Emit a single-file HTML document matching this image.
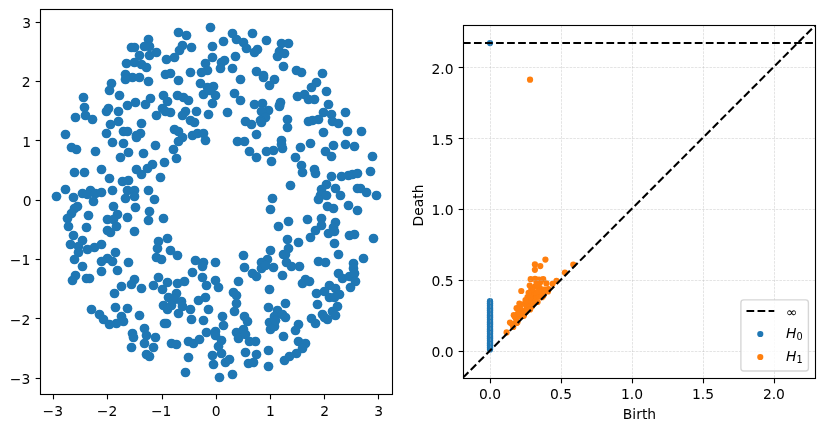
<!DOCTYPE html>
<html lang="en"><head><meta charset="utf-8"><title>Annulus point cloud and persistence diagram</title>
<style>html,body{margin:0;padding:0;background:#fff}body{width:825px;height:431px;overflow:hidden}svg{display:block}text{font-family:'DejaVu Sans','Liberation Sans',sans-serif;font-size:13.889px;fill:#000}.sp{fill:none;stroke:#000;stroke-width:1.111;stroke-linecap:square}.tk{stroke:#000;stroke-width:1.111}.gr{fill:none;stroke:#b0b0b0;stroke-opacity:.5;stroke-width:.694;stroke-dasharray:2.569 1.111}.dl{fill:none;stroke:#000;stroke-width:2.083;stroke-dasharray:7.708 3.333}</style></head><body>
<svg width="825" height="431" viewBox="0 0 825 431">
<rect width="825" height="431" fill="#fff"/>
<defs><clipPath id="c1"><rect x="40.2" y="9.1" width="352.3" height="385"/></clipPath><clipPath id="c2"><rect x="462.93" y="25.45" width="352.27" height="352.27"/></clipPath></defs>
<g clip-path="url(#c1)" fill="#1f77b4">
<circle cx="148.5" cy="39.5" r="4.86"/>
<circle cx="131.5" cy="47.5" r="4.86"/>
<circle cx="134.5" cy="47.5" r="4.86"/>
<circle cx="149.5" cy="46.5" r="4.86"/>
<circle cx="156.5" cy="52.5" r="4.86"/>
<circle cx="149.5" cy="55.5" r="4.86"/>
<circle cx="139.5" cy="55.5" r="4.86"/>
<circle cx="126.5" cy="63.5" r="4.86"/>
<circle cx="134.5" cy="62.5" r="4.86"/>
<circle cx="141.5" cy="64.5" r="4.86"/>
<circle cx="146.5" cy="67.5" r="4.86"/>
<circle cx="125.5" cy="74.5" r="4.86"/>
<circle cx="132.5" cy="77.5" r="4.86"/>
<circle cx="139.5" cy="77.5" r="4.86"/>
<circle cx="144.5" cy="46.5" r="4.86"/>
<circle cx="178.5" cy="32.5" r="4.86"/>
<circle cx="186.5" cy="35.5" r="4.86"/>
<circle cx="210.5" cy="27.5" r="4.86"/>
<circle cx="182.5" cy="45.5" r="4.86"/>
<circle cx="179.5" cy="50.5" r="4.86"/>
<circle cx="191.5" cy="47.5" r="4.86"/>
<circle cx="174.5" cy="57.5" r="4.86"/>
<circle cx="166.5" cy="59.5" r="4.86"/>
<circle cx="212.5" cy="46.5" r="4.86"/>
<circle cx="223.5" cy="41.5" r="4.86"/>
<circle cx="232.5" cy="33.5" r="4.86"/>
<circle cx="236.5" cy="39.5" r="4.86"/>
<circle cx="243.5" cy="42.5" r="4.86"/>
<circle cx="246.5" cy="48.5" r="4.86"/>
<circle cx="252.5" cy="33.5" r="4.86"/>
<circle cx="266.5" cy="40.5" r="4.86"/>
<circle cx="257.5" cy="49.5" r="4.86"/>
<circle cx="254.5" cy="52.5" r="4.86"/>
<circle cx="235.5" cy="56.5" r="4.86"/>
<circle cx="212.5" cy="57.5" r="4.86"/>
<circle cx="205.5" cy="63.5" r="4.86"/>
<circle cx="207.5" cy="70.5" r="4.86"/>
<circle cx="201.5" cy="72.5" r="4.86"/>
<circle cx="190.5" cy="72.5" r="4.86"/>
<circle cx="224.5" cy="60.5" r="4.86"/>
<circle cx="221.5" cy="62.5" r="4.86"/>
<circle cx="220.5" cy="68.5" r="4.86"/>
<circle cx="232.5" cy="68.5" r="4.86"/>
<circle cx="281.5" cy="43.5" r="4.86"/>
<circle cx="279.5" cy="51.5" r="4.86"/>
<circle cx="277.5" cy="56.5" r="4.86"/>
<circle cx="284.5" cy="53.5" r="4.86"/>
<circle cx="283.5" cy="66.5" r="4.86"/>
<circle cx="256.5" cy="71.5" r="4.86"/>
<circle cx="263.5" cy="75.5" r="4.86"/>
<circle cx="170.5" cy="73.5" r="4.86"/>
<circle cx="165.5" cy="74.5" r="4.86"/>
<circle cx="288.5" cy="43.5" r="4.86"/>
<circle cx="296.5" cy="70.5" r="4.86"/>
<circle cx="301.5" cy="72.5" r="4.86"/>
<circle cx="322.5" cy="73.5" r="4.86"/>
<circle cx="125.5" cy="79.5" r="4.86"/>
<circle cx="148.5" cy="81.5" r="4.86"/>
<circle cx="111.5" cy="83.5" r="4.86"/>
<circle cx="109.5" cy="90.5" r="4.86"/>
<circle cx="119.5" cy="95.5" r="4.86"/>
<circle cx="83.5" cy="97.5" r="4.86"/>
<circle cx="84.5" cy="107.5" r="4.86"/>
<circle cx="85.5" cy="115.5" r="4.86"/>
<circle cx="92.5" cy="119.5" r="4.86"/>
<circle cx="75.5" cy="117.5" r="4.86"/>
<circle cx="108.5" cy="108.5" r="4.86"/>
<circle cx="106.5" cy="111.5" r="4.86"/>
<circle cx="118.5" cy="111.5" r="4.86"/>
<circle cx="127.5" cy="105.5" r="4.86"/>
<circle cx="135.5" cy="102.5" r="4.86"/>
<circle cx="145.5" cy="104.5" r="4.86"/>
<circle cx="150.5" cy="98.5" r="4.86"/>
<circle cx="163.5" cy="95.5" r="4.86"/>
<circle cx="162.5" cy="108.5" r="4.86"/>
<circle cx="156.5" cy="115.5" r="4.86"/>
<circle cx="118.5" cy="121.5" r="4.86"/>
<circle cx="110.5" cy="124.5" r="4.86"/>
<circle cx="141.5" cy="123.5" r="4.86"/>
<circle cx="106.5" cy="133.5" r="4.86"/>
<circle cx="123.5" cy="131.5" r="4.86"/>
<circle cx="127.5" cy="131.5" r="4.86"/>
<circle cx="140.5" cy="133.5" r="4.86"/>
<circle cx="136.5" cy="135.5" r="4.86"/>
<circle cx="65.5" cy="134.5" r="4.86"/>
<circle cx="178.5" cy="80.5" r="4.86"/>
<circle cx="200.5" cy="83.5" r="4.86"/>
<circle cx="213.5" cy="86.5" r="4.86"/>
<circle cx="207.5" cy="87.5" r="4.86"/>
<circle cx="203.5" cy="94.5" r="4.86"/>
<circle cx="215.5" cy="95.5" r="4.86"/>
<circle cx="212.5" cy="103.5" r="4.86"/>
<circle cx="177.5" cy="95.5" r="4.86"/>
<circle cx="183.5" cy="97.5" r="4.86"/>
<circle cx="188.5" cy="100.5" r="4.86"/>
<circle cx="167.5" cy="101.5" r="4.86"/>
<circle cx="170.5" cy="112.5" r="4.86"/>
<circle cx="165.5" cy="111.5" r="4.86"/>
<circle cx="185.5" cy="111.5" r="4.86"/>
<circle cx="182.5" cy="115.5" r="4.86"/>
<circle cx="196.5" cy="111.5" r="4.86"/>
<circle cx="208.5" cy="114.5" r="4.86"/>
<circle cx="190.5" cy="120.5" r="4.86"/>
<circle cx="194.5" cy="122.5" r="4.86"/>
<circle cx="227.5" cy="112.5" r="4.86"/>
<circle cx="234.5" cy="93.5" r="4.86"/>
<circle cx="240.5" cy="100.5" r="4.86"/>
<circle cx="240.5" cy="79.5" r="4.86"/>
<circle cx="263.5" cy="77.5" r="4.86"/>
<circle cx="274.5" cy="79.5" r="4.86"/>
<circle cx="269.5" cy="85.5" r="4.86"/>
<circle cx="254.5" cy="104.5" r="4.86"/>
<circle cx="262.5" cy="103.5" r="4.86"/>
<circle cx="280.5" cy="102.5" r="4.86"/>
<circle cx="279.5" cy="105.5" r="4.86"/>
<circle cx="268.5" cy="110.5" r="4.86"/>
<circle cx="261.5" cy="111.5" r="4.86"/>
<circle cx="265.5" cy="117.5" r="4.86"/>
<circle cx="260.5" cy="120.5" r="4.86"/>
<circle cx="245.5" cy="121.5" r="4.86"/>
<circle cx="251.5" cy="124.5" r="4.86"/>
<circle cx="256.5" cy="134.5" r="4.86"/>
<circle cx="174.5" cy="129.5" r="4.86"/>
<circle cx="178.5" cy="131.5" r="4.86"/>
<circle cx="182.5" cy="137.5" r="4.86"/>
<circle cx="192.5" cy="135.5" r="4.86"/>
<circle cx="197.5" cy="133.5" r="4.86"/>
<circle cx="203.5" cy="133.5" r="4.86"/>
<circle cx="316.5" cy="82.5" r="4.86"/>
<circle cx="311.5" cy="87.5" r="4.86"/>
<circle cx="326.5" cy="91.5" r="4.86"/>
<circle cx="297.5" cy="96.5" r="4.86"/>
<circle cx="304.5" cy="94.5" r="4.86"/>
<circle cx="308.5" cy="99.5" r="4.86"/>
<circle cx="314.5" cy="99.5" r="4.86"/>
<circle cx="328.5" cy="104.5" r="4.86"/>
<circle cx="323.5" cy="112.5" r="4.86"/>
<circle cx="331.5" cy="114.5" r="4.86"/>
<circle cx="345.5" cy="112.5" r="4.86"/>
<circle cx="318.5" cy="119.5" r="4.86"/>
<circle cx="312.5" cy="120.5" r="4.86"/>
<circle cx="308.5" cy="121.5" r="4.86"/>
<circle cx="332.5" cy="121.5" r="4.86"/>
<circle cx="338.5" cy="123.5" r="4.86"/>
<circle cx="323.5" cy="132.5" r="4.86"/>
<circle cx="347.5" cy="131.5" r="4.86"/>
<circle cx="361.5" cy="131.5" r="4.86"/>
<circle cx="287.5" cy="119.5" r="4.86"/>
<circle cx="287.5" cy="127.5" r="4.86"/>
<circle cx="71.5" cy="147.5" r="4.86"/>
<circle cx="76.5" cy="149.5" r="4.86"/>
<circle cx="95.5" cy="151.5" r="4.86"/>
<circle cx="112.5" cy="142.5" r="4.86"/>
<circle cx="123.5" cy="143.5" r="4.86"/>
<circle cx="128.5" cy="152.5" r="4.86"/>
<circle cx="120.5" cy="157.5" r="4.86"/>
<circle cx="143.5" cy="153.5" r="4.86"/>
<circle cx="155.5" cy="145.5" r="4.86"/>
<circle cx="136.5" cy="137.5" r="4.86"/>
<circle cx="74.5" cy="172.5" r="4.86"/>
<circle cx="84.5" cy="172.5" r="4.86"/>
<circle cx="101.5" cy="169.5" r="4.86"/>
<circle cx="109.5" cy="178.5" r="4.86"/>
<circle cx="122.5" cy="181.5" r="4.86"/>
<circle cx="128.5" cy="180.5" r="4.86"/>
<circle cx="136.5" cy="169.5" r="4.86"/>
<circle cx="141.5" cy="174.5" r="4.86"/>
<circle cx="147.5" cy="168.5" r="4.86"/>
<circle cx="152.5" cy="164.5" r="4.86"/>
<circle cx="164.5" cy="162.5" r="4.86"/>
<circle cx="160.5" cy="177.5" r="4.86"/>
<circle cx="65.5" cy="189.5" r="4.86"/>
<circle cx="56.5" cy="196.5" r="4.86"/>
<circle cx="73.5" cy="197.5" r="4.86"/>
<circle cx="82.5" cy="193.5" r="4.86"/>
<circle cx="90.5" cy="190.5" r="4.86"/>
<circle cx="87.5" cy="194.5" r="4.86"/>
<circle cx="95.5" cy="193.5" r="4.86"/>
<circle cx="101.5" cy="192.5" r="4.86"/>
<circle cx="112.5" cy="190.5" r="4.86"/>
<circle cx="127.5" cy="190.5" r="4.86"/>
<circle cx="134.5" cy="190.5" r="4.86"/>
<circle cx="125.5" cy="198.5" r="4.86"/>
<circle cx="134.5" cy="196.5" r="4.86"/>
<circle cx="148.5" cy="190.5" r="4.86"/>
<circle cx="154.5" cy="199.5" r="4.86"/>
<circle cx="93.5" cy="201.5" r="4.86"/>
<circle cx="178.5" cy="141.5" r="4.86"/>
<circle cx="205.5" cy="140.5" r="4.86"/>
<circle cx="173.5" cy="149.5" r="4.86"/>
<circle cx="176.5" cy="158.5" r="4.86"/>
<circle cx="237.5" cy="141.5" r="4.86"/>
<circle cx="244.5" cy="141.5" r="4.86"/>
<circle cx="249.5" cy="151.5" r="4.86"/>
<circle cx="256.5" cy="157.5" r="4.86"/>
<circle cx="266.5" cy="151.5" r="4.86"/>
<circle cx="273.5" cy="150.5" r="4.86"/>
<circle cx="271.5" cy="161.5" r="4.86"/>
<circle cx="281.5" cy="140.5" r="4.86"/>
<circle cx="282.5" cy="148.5" r="4.86"/>
<circle cx="272.5" cy="198.5" r="4.86"/>
<circle cx="300.5" cy="147.5" r="4.86"/>
<circle cx="310.5" cy="143.5" r="4.86"/>
<circle cx="295.5" cy="157.5" r="4.86"/>
<circle cx="333.5" cy="145.5" r="4.86"/>
<circle cx="325.5" cy="151.5" r="4.86"/>
<circle cx="331.5" cy="156.5" r="4.86"/>
<circle cx="345.5" cy="144.5" r="4.86"/>
<circle cx="354.5" cy="146.5" r="4.86"/>
<circle cx="372.5" cy="156.5" r="4.86"/>
<circle cx="301.5" cy="165.5" r="4.86"/>
<circle cx="302.5" cy="172.5" r="4.86"/>
<circle cx="314.5" cy="169.5" r="4.86"/>
<circle cx="315.5" cy="173.5" r="4.86"/>
<circle cx="331.5" cy="176.5" r="4.86"/>
<circle cx="341.5" cy="176.5" r="4.86"/>
<circle cx="348.5" cy="175.5" r="4.86"/>
<circle cx="352.5" cy="174.5" r="4.86"/>
<circle cx="357.5" cy="173.5" r="4.86"/>
<circle cx="370.5" cy="171.5" r="4.86"/>
<circle cx="290.5" cy="185.5" r="4.86"/>
<circle cx="326.5" cy="184.5" r="4.86"/>
<circle cx="321.5" cy="189.5" r="4.86"/>
<circle cx="320.5" cy="195.5" r="4.86"/>
<circle cx="326.5" cy="195.5" r="4.86"/>
<circle cx="318.5" cy="199.5" r="4.86"/>
<circle cx="335.5" cy="188.5" r="4.86"/>
<circle cx="340.5" cy="195.5" r="4.86"/>
<circle cx="357.5" cy="188.5" r="4.86"/>
<circle cx="360.5" cy="188.5" r="4.86"/>
<circle cx="366.5" cy="192.5" r="4.86"/>
<circle cx="376.5" cy="195.5" r="4.86"/>
<circle cx="77.5" cy="206.5" r="4.86"/>
<circle cx="74.5" cy="208.5" r="4.86"/>
<circle cx="71.5" cy="213.5" r="4.86"/>
<circle cx="67.5" cy="218.5" r="4.86"/>
<circle cx="68.5" cy="226.5" r="4.86"/>
<circle cx="88.5" cy="215.5" r="4.86"/>
<circle cx="86.5" cy="227.5" r="4.86"/>
<circle cx="113.5" cy="206.5" r="4.86"/>
<circle cx="117.5" cy="214.5" r="4.86"/>
<circle cx="107.5" cy="219.5" r="4.86"/>
<circle cx="113.5" cy="219.5" r="4.86"/>
<circle cx="116.5" cy="226.5" r="4.86"/>
<circle cx="107.5" cy="230.5" r="4.86"/>
<circle cx="110.5" cy="232.5" r="4.86"/>
<circle cx="127.5" cy="217.5" r="4.86"/>
<circle cx="135.5" cy="207.5" r="4.86"/>
<circle cx="149.5" cy="211.5" r="4.86"/>
<circle cx="148.5" cy="220.5" r="4.86"/>
<circle cx="163.5" cy="218.5" r="4.86"/>
<circle cx="134.5" cy="231.5" r="4.86"/>
<circle cx="73.5" cy="235.5" r="4.86"/>
<circle cx="82.5" cy="240.5" r="4.86"/>
<circle cx="70.5" cy="244.5" r="4.86"/>
<circle cx="78.5" cy="246.5" r="4.86"/>
<circle cx="78.5" cy="252.5" r="4.86"/>
<circle cx="74.5" cy="259.5" r="4.86"/>
<circle cx="87.5" cy="249.5" r="4.86"/>
<circle cx="94.5" cy="247.5" r="4.86"/>
<circle cx="101.5" cy="244.5" r="4.86"/>
<circle cx="115.5" cy="252.5" r="4.86"/>
<circle cx="107.5" cy="258.5" r="4.86"/>
<circle cx="101.5" cy="261.5" r="4.86"/>
<circle cx="112.5" cy="261.5" r="4.86"/>
<circle cx="128.5" cy="262.5" r="4.86"/>
<circle cx="158.5" cy="241.5" r="4.86"/>
<circle cx="157.5" cy="248.5" r="4.86"/>
<circle cx="156.5" cy="257.5" r="4.86"/>
<circle cx="161.5" cy="259.5" r="4.86"/>
<circle cx="167.5" cy="238.5" r="4.86"/>
<circle cx="170.5" cy="250.5" r="4.86"/>
<circle cx="177.5" cy="255.5" r="4.86"/>
<circle cx="195.5" cy="260.5" r="4.86"/>
<circle cx="203.5" cy="262.5" r="4.86"/>
<circle cx="215.5" cy="262.5" r="4.86"/>
<circle cx="243.5" cy="255.5" r="4.86"/>
<circle cx="270.5" cy="209.5" r="4.86"/>
<circle cx="278.5" cy="226.5" r="4.86"/>
<circle cx="270.5" cy="250.5" r="4.86"/>
<circle cx="267.5" cy="259.5" r="4.86"/>
<circle cx="261.5" cy="262.5" r="4.86"/>
<circle cx="283.5" cy="254.5" r="4.86"/>
<circle cx="327.5" cy="206.5" r="4.86"/>
<circle cx="333.5" cy="208.5" r="4.86"/>
<circle cx="348.5" cy="205.5" r="4.86"/>
<circle cx="357.5" cy="210.5" r="4.86"/>
<circle cx="288.5" cy="221.5" r="4.86"/>
<circle cx="307.5" cy="219.5" r="4.86"/>
<circle cx="321.5" cy="218.5" r="4.86"/>
<circle cx="321.5" cy="225.5" r="4.86"/>
<circle cx="315.5" cy="230.5" r="4.86"/>
<circle cx="310.5" cy="237.5" r="4.86"/>
<circle cx="335.5" cy="222.5" r="4.86"/>
<circle cx="333.5" cy="227.5" r="4.86"/>
<circle cx="328.5" cy="233.5" r="4.86"/>
<circle cx="334.5" cy="231.5" r="4.86"/>
<circle cx="349.5" cy="235.5" r="4.86"/>
<circle cx="354.5" cy="234.5" r="4.86"/>
<circle cx="373.5" cy="238.5" r="4.86"/>
<circle cx="287.5" cy="239.5" r="4.86"/>
<circle cx="298.5" cy="242.5" r="4.86"/>
<circle cx="288.5" cy="248.5" r="4.86"/>
<circle cx="334.5" cy="243.5" r="4.86"/>
<circle cx="338.5" cy="254.5" r="4.86"/>
<circle cx="363.5" cy="258.5" r="4.86"/>
<circle cx="318.5" cy="261.5" r="4.86"/>
<circle cx="325.5" cy="262.5" r="4.86"/>
<circle cx="285.5" cy="254.5" r="4.86"/>
<circle cx="286.5" cy="262.5" r="4.86"/>
<circle cx="299.5" cy="266.5" r="4.86"/>
<circle cx="353.5" cy="263.5" r="4.86"/>
<circle cx="82.5" cy="266.5" r="4.86"/>
<circle cx="101.5" cy="271.5" r="4.86"/>
<circle cx="117.5" cy="270.5" r="4.86"/>
<circle cx="75.5" cy="275.5" r="4.86"/>
<circle cx="72.5" cy="280.5" r="4.86"/>
<circle cx="86.5" cy="278.5" r="4.86"/>
<circle cx="89.5" cy="278.5" r="4.86"/>
<circle cx="134.5" cy="279.5" r="4.86"/>
<circle cx="131.5" cy="284.5" r="4.86"/>
<circle cx="121.5" cy="286.5" r="4.86"/>
<circle cx="114.5" cy="293.5" r="4.86"/>
<circle cx="141.5" cy="288.5" r="4.86"/>
<circle cx="153.5" cy="285.5" r="4.86"/>
<circle cx="158.5" cy="277.5" r="4.86"/>
<circle cx="162.5" cy="289.5" r="4.86"/>
<circle cx="167.5" cy="282.5" r="4.86"/>
<circle cx="91.5" cy="309.5" r="4.86"/>
<circle cx="115.5" cy="307.5" r="4.86"/>
<circle cx="127.5" cy="308.5" r="4.86"/>
<circle cx="99.5" cy="314.5" r="4.86"/>
<circle cx="103.5" cy="319.5" r="4.86"/>
<circle cx="121.5" cy="316.5" r="4.86"/>
<circle cx="123.5" cy="321.5" r="4.86"/>
<circle cx="116.5" cy="323.5" r="4.86"/>
<circle cx="109.5" cy="324.5" r="4.86"/>
<circle cx="139.5" cy="315.5" r="4.86"/>
<circle cx="163.5" cy="305.5" r="4.86"/>
<circle cx="164.5" cy="323.5" r="4.86"/>
<circle cx="144.5" cy="328.5" r="4.86"/>
<circle cx="202.5" cy="266.5" r="4.86"/>
<circle cx="192.5" cy="272.5" r="4.86"/>
<circle cx="202.5" cy="277.5" r="4.86"/>
<circle cx="206.5" cy="285.5" r="4.86"/>
<circle cx="215.5" cy="280.5" r="4.86"/>
<circle cx="218.5" cy="287.5" r="4.86"/>
<circle cx="177.5" cy="283.5" r="4.86"/>
<circle cx="184.5" cy="281.5" r="4.86"/>
<circle cx="176.5" cy="293.5" r="4.86"/>
<circle cx="168.5" cy="297.5" r="4.86"/>
<circle cx="174.5" cy="299.5" r="4.86"/>
<circle cx="181.5" cy="301.5" r="4.86"/>
<circle cx="167.5" cy="309.5" r="4.86"/>
<circle cx="178.5" cy="313.5" r="4.86"/>
<circle cx="182.5" cy="306.5" r="4.86"/>
<circle cx="171.5" cy="305.5" r="4.86"/>
<circle cx="190.5" cy="309.5" r="4.86"/>
<circle cx="198.5" cy="300.5" r="4.86"/>
<circle cx="205.5" cy="297.5" r="4.86"/>
<circle cx="208.5" cy="309.5" r="4.86"/>
<circle cx="191.5" cy="319.5" r="4.86"/>
<circle cx="203.5" cy="320.5" r="4.86"/>
<circle cx="166.5" cy="323.5" r="4.86"/>
<circle cx="222.5" cy="316.5" r="4.86"/>
<circle cx="223.5" cy="325.5" r="4.86"/>
<circle cx="238.5" cy="281.5" r="4.86"/>
<circle cx="233.5" cy="292.5" r="4.86"/>
<circle cx="236.5" cy="295.5" r="4.86"/>
<circle cx="236.5" cy="303.5" r="4.86"/>
<circle cx="234.5" cy="311.5" r="4.86"/>
<circle cx="244.5" cy="267.5" r="4.86"/>
<circle cx="252.5" cy="273.5" r="4.86"/>
<circle cx="256.5" cy="276.5" r="4.86"/>
<circle cx="261.5" cy="268.5" r="4.86"/>
<circle cx="265.5" cy="265.5" r="4.86"/>
<circle cx="273.5" cy="267.5" r="4.86"/>
<circle cx="282.5" cy="275.5" r="4.86"/>
<circle cx="269.5" cy="289.5" r="4.86"/>
<circle cx="268.5" cy="307.5" r="4.86"/>
<circle cx="277.5" cy="310.5" r="4.86"/>
<circle cx="274.5" cy="316.5" r="4.86"/>
<circle cx="269.5" cy="322.5" r="4.86"/>
<circle cx="244.5" cy="316.5" r="4.86"/>
<circle cx="247.5" cy="321.5" r="4.86"/>
<circle cx="282.5" cy="314.5" r="4.86"/>
<circle cx="291.5" cy="266.5" r="4.86"/>
<circle cx="285.5" cy="303.5" r="4.86"/>
<circle cx="305.5" cy="279.5" r="4.86"/>
<circle cx="302.5" cy="283.5" r="4.86"/>
<circle cx="309.5" cy="281.5" r="4.86"/>
<circle cx="338.5" cy="273.5" r="4.86"/>
<circle cx="342.5" cy="278.5" r="4.86"/>
<circle cx="349.5" cy="276.5" r="4.86"/>
<circle cx="353.5" cy="268.5" r="4.86"/>
<circle cx="354.5" cy="273.5" r="4.86"/>
<circle cx="355.5" cy="281.5" r="4.86"/>
<circle cx="350.5" cy="287.5" r="4.86"/>
<circle cx="329.5" cy="285.5" r="4.86"/>
<circle cx="324.5" cy="291.5" r="4.86"/>
<circle cx="316.5" cy="293.5" r="4.86"/>
<circle cx="335.5" cy="288.5" r="4.86"/>
<circle cx="339.5" cy="294.5" r="4.86"/>
<circle cx="329.5" cy="297.5" r="4.86"/>
<circle cx="334.5" cy="297.5" r="4.86"/>
<circle cx="317.5" cy="304.5" r="4.86"/>
<circle cx="337.5" cy="306.5" r="4.86"/>
<circle cx="332.5" cy="311.5" r="4.86"/>
<circle cx="335.5" cy="315.5" r="4.86"/>
<circle cx="322.5" cy="314.5" r="4.86"/>
<circle cx="327.5" cy="319.5" r="4.86"/>
<circle cx="311.5" cy="318.5" r="4.86"/>
<circle cx="315.5" cy="323.5" r="4.86"/>
<circle cx="298.5" cy="324.5" r="4.86"/>
<circle cx="132.5" cy="333.5" r="4.86"/>
<circle cx="133.5" cy="337.5" r="4.86"/>
<circle cx="131.5" cy="347.5" r="4.86"/>
<circle cx="146.5" cy="335.5" r="4.86"/>
<circle cx="144.5" cy="343.5" r="4.86"/>
<circle cx="155.5" cy="337.5" r="4.86"/>
<circle cx="153.5" cy="347.5" r="4.86"/>
<circle cx="146.5" cy="354.5" r="4.86"/>
<circle cx="149.5" cy="356.5" r="4.86"/>
<circle cx="171.5" cy="343.5" r="4.86"/>
<circle cx="176.5" cy="344.5" r="4.86"/>
<circle cx="188.5" cy="341.5" r="4.86"/>
<circle cx="193.5" cy="343.5" r="4.86"/>
<circle cx="199.5" cy="339.5" r="4.86"/>
<circle cx="206.5" cy="332.5" r="4.86"/>
<circle cx="215.5" cy="331.5" r="4.86"/>
<circle cx="215.5" cy="335.5" r="4.86"/>
<circle cx="221.5" cy="340.5" r="4.86"/>
<circle cx="218.5" cy="346.5" r="4.86"/>
<circle cx="221.5" cy="353.5" r="4.86"/>
<circle cx="212.5" cy="355.5" r="4.86"/>
<circle cx="213.5" cy="364.5" r="4.86"/>
<circle cx="188.5" cy="357.5" r="4.86"/>
<circle cx="185.5" cy="372.5" r="4.86"/>
<circle cx="219.5" cy="377.5" r="4.86"/>
<circle cx="232.5" cy="374.5" r="4.86"/>
<circle cx="225.5" cy="362.5" r="4.86"/>
<circle cx="229.5" cy="359.5" r="4.86"/>
<circle cx="236.5" cy="332.5" r="4.86"/>
<circle cx="238.5" cy="338.5" r="4.86"/>
<circle cx="243.5" cy="329.5" r="4.86"/>
<circle cx="245.5" cy="334.5" r="4.86"/>
<circle cx="249.5" cy="341.5" r="4.86"/>
<circle cx="255.5" cy="341.5" r="4.86"/>
<circle cx="245.5" cy="352.5" r="4.86"/>
<circle cx="256.5" cy="354.5" r="4.86"/>
<circle cx="248.5" cy="363.5" r="4.86"/>
<circle cx="253.5" cy="362.5" r="4.86"/>
<circle cx="268.5" cy="350.5" r="4.86"/>
<circle cx="268.5" cy="366.5" r="4.86"/>
<circle cx="270.5" cy="329.5" r="4.86"/>
<circle cx="274.5" cy="326.5" r="4.86"/>
<circle cx="283.5" cy="336.5" r="4.86"/>
<circle cx="284.5" cy="360.5" r="4.86"/>
<circle cx="295.5" cy="330.5" r="4.86"/>
<circle cx="298.5" cy="341.5" r="4.86"/>
<circle cx="305.5" cy="343.5" r="4.86"/>
<circle cx="302.5" cy="348.5" r="4.86"/>
<circle cx="296.5" cy="353.5" r="4.86"/>
<circle cx="289.5" cy="356.5" r="4.86"/>
<circle cx="261.5" cy="122.5" r="4.86"/>
<circle cx="281.5" cy="144.5" r="4.86"/>
<circle cx="279.5" cy="106.5" r="4.86"/>
<circle cx="285.5" cy="317.5" r="4.86"/>
<circle cx="324.5" cy="317.5" r="4.86"/>
<circle cx="209.5" cy="90.5" r="4.86"/>
<circle cx="275.5" cy="320.5" r="4.86"/>
</g>
<path class="tk" d="M53.5 394.5v4.86"/>
<path class="tk" d="M107.5 394.5v4.86"/>
<path class="tk" d="M162.5 394.5v4.86"/>
<path class="tk" d="M216.5 394.5v4.86"/>
<path class="tk" d="M270.5 394.5v4.86"/>
<path class="tk" d="M324.5 394.5v4.86"/>
<path class="tk" d="M378.5 394.5v4.86"/>
<path class="tk" d="M40.5 378.5h-4.86"/>
<path class="tk" d="M40.5 318.5h-4.86"/>
<path class="tk" d="M40.5 259.5h-4.86"/>
<path class="tk" d="M40.5 200.5h-4.86"/>
<path class="tk" d="M40.5 140.5h-4.86"/>
<path class="tk" d="M40.5 81.5h-4.86"/>
<path class="tk" d="M40.5 22.5h-4.86"/>
<text x="52.82" y="416.36" text-anchor="middle">−3</text>
<text x="107.01" y="416.36" text-anchor="middle">−2</text>
<text x="161.20" y="416.36" text-anchor="middle">−1</text>
<text x="216.18" y="416.36" text-anchor="middle">0</text>
<text x="270.37" y="416.36" text-anchor="middle">1</text>
<text x="324.56" y="416.36" text-anchor="middle">2</text>
<text x="378.75" y="416.36" text-anchor="middle">3</text>
<text x="30.30" y="383.87" text-anchor="end">−3</text>
<text x="30.30" y="324.54" text-anchor="end">−2</text>
<text x="30.30" y="265.21" text-anchor="end">−1</text>
<text x="31.60" y="205.87" text-anchor="end">0</text>
<text x="30.98" y="146.54" text-anchor="end">1</text>
<text x="30.70" y="87.21" text-anchor="end">2</text>
<text x="30.98" y="27.88" text-anchor="end">3</text>
<rect class="sp" x="40.5" y="9.5" width="352.0" height="385.0"/>
<g clip-path="url(#c2)">
<g fill="#1f77b4">
<circle cx="490.02" cy="349.49" r="3.106"/>
<circle cx="490.02" cy="348.79" r="3.106"/>
<circle cx="490.02" cy="348.09" r="3.106"/>
<circle cx="490.02" cy="347.39" r="3.106"/>
<circle cx="490.02" cy="346.69" r="3.106"/>
<circle cx="490.02" cy="345.99" r="3.106"/>
<circle cx="490.02" cy="345.29" r="3.106"/>
<circle cx="490.02" cy="344.59" r="3.106"/>
<circle cx="490.02" cy="343.89" r="3.106"/>
<circle cx="490.02" cy="343.19" r="3.106"/>
<circle cx="490.02" cy="342.49" r="3.106"/>
<circle cx="490.02" cy="341.80" r="3.106"/>
<circle cx="490.02" cy="341.10" r="3.106"/>
<circle cx="490.02" cy="340.40" r="3.106"/>
<circle cx="490.02" cy="339.70" r="3.106"/>
<circle cx="490.02" cy="339.00" r="3.106"/>
<circle cx="490.02" cy="338.30" r="3.106"/>
<circle cx="490.02" cy="337.60" r="3.106"/>
<circle cx="490.02" cy="336.90" r="3.106"/>
<circle cx="490.02" cy="336.20" r="3.106"/>
<circle cx="490.02" cy="335.50" r="3.106"/>
<circle cx="490.02" cy="334.80" r="3.106"/>
<circle cx="490.02" cy="334.10" r="3.106"/>
<circle cx="490.02" cy="333.40" r="3.106"/>
<circle cx="490.02" cy="332.70" r="3.106"/>
<circle cx="490.02" cy="332.00" r="3.106"/>
<circle cx="490.02" cy="331.30" r="3.106"/>
<circle cx="490.02" cy="330.60" r="3.106"/>
<circle cx="490.02" cy="329.90" r="3.106"/>
<circle cx="490.02" cy="329.21" r="3.106"/>
<circle cx="490.02" cy="328.51" r="3.106"/>
<circle cx="490.02" cy="327.81" r="3.106"/>
<circle cx="490.02" cy="327.11" r="3.106"/>
<circle cx="490.02" cy="326.41" r="3.106"/>
<circle cx="490.02" cy="325.71" r="3.106"/>
<circle cx="490.02" cy="325.01" r="3.106"/>
<circle cx="490.02" cy="324.31" r="3.106"/>
<circle cx="490.02" cy="323.61" r="3.106"/>
<circle cx="490.02" cy="322.91" r="3.106"/>
<circle cx="490.02" cy="322.21" r="3.106"/>
<circle cx="490.02" cy="321.51" r="3.106"/>
<circle cx="490.02" cy="320.81" r="3.106"/>
<circle cx="490.02" cy="320.11" r="3.106"/>
<circle cx="490.02" cy="319.41" r="3.106"/>
<circle cx="490.02" cy="318.71" r="3.106"/>
<circle cx="490.02" cy="318.01" r="3.106"/>
<circle cx="490.02" cy="317.31" r="3.106"/>
<circle cx="490.02" cy="316.61" r="3.106"/>
<circle cx="490.02" cy="315.92" r="3.106"/>
<circle cx="490.02" cy="315.22" r="3.106"/>
<circle cx="490.02" cy="314.52" r="3.106"/>
<circle cx="490.02" cy="313.82" r="3.106"/>
<circle cx="490.02" cy="313.12" r="3.106"/>
<circle cx="490.02" cy="312.42" r="3.106"/>
<circle cx="490.02" cy="311.72" r="3.106"/>
<circle cx="490.02" cy="311.02" r="3.106"/>
<circle cx="490.02" cy="310.32" r="3.106"/>
<circle cx="490.02" cy="309.62" r="3.106"/>
<circle cx="490.02" cy="308.92" r="3.106"/>
<circle cx="490.02" cy="308.22" r="3.106"/>
<circle cx="490.02" cy="307.52" r="3.106"/>
<circle cx="490.02" cy="306.82" r="3.106"/>
<circle cx="490.02" cy="306.12" r="3.106"/>
<circle cx="490.02" cy="305.42" r="3.106"/>
<circle cx="490.02" cy="304.72" r="3.106"/>
<circle cx="490.02" cy="304.02" r="3.106"/>
<circle cx="490.02" cy="303.33" r="3.106"/>
<circle cx="490.02" cy="302.63" r="3.106"/>
<circle cx="490.02" cy="301.93" r="3.106"/>
<circle cx="490.02" cy="301.23" r="3.106"/>
<circle cx="490.02" cy="43.06" r="3.106"/>
</g>
<g fill="#ff7f0e">
<circle cx="530.05" cy="79.70" r="3.106"/>
<circle cx="545.40" cy="259.60" r="3.106"/>
<circle cx="534.90" cy="264.40" r="3.106"/>
<circle cx="540.30" cy="266.10" r="3.106"/>
<circle cx="534.90" cy="269.80" r="3.106"/>
<circle cx="573.30" cy="264.50" r="3.106"/>
<circle cx="564.90" cy="272.60" r="3.106"/>
<circle cx="556.50" cy="280.80" r="3.106"/>
<circle cx="552.60" cy="283.80" r="3.106"/>
<circle cx="521.30" cy="291.00" r="3.106"/>
<circle cx="510.00" cy="322.60" r="3.106"/>
<circle cx="506.60" cy="332.40" r="3.106"/>
<circle cx="540.32" cy="282.14" r="3.106"/>
<circle cx="525.21" cy="303.90" r="3.106"/>
<circle cx="526.95" cy="307.69" r="3.106"/>
<circle cx="520.50" cy="311.02" r="3.106"/>
<circle cx="538.63" cy="291.81" r="3.106"/>
<circle cx="521.12" cy="316.05" r="3.106"/>
<circle cx="539.78" cy="287.81" r="3.106"/>
<circle cx="538.73" cy="291.77" r="3.106"/>
<circle cx="546.33" cy="290.87" r="3.106"/>
<circle cx="532.72" cy="297.58" r="3.106"/>
<circle cx="534.97" cy="286.62" r="3.106"/>
<circle cx="515.93" cy="316.33" r="3.106"/>
<circle cx="517.41" cy="322.37" r="3.106"/>
<circle cx="537.91" cy="295.89" r="3.106"/>
<circle cx="529.15" cy="304.96" r="3.106"/>
<circle cx="542.06" cy="297.26" r="3.106"/>
<circle cx="517.03" cy="316.03" r="3.106"/>
<circle cx="544.09" cy="289.70" r="3.106"/>
<circle cx="527.47" cy="297.05" r="3.106"/>
<circle cx="539.09" cy="280.76" r="3.106"/>
<circle cx="525.80" cy="311.93" r="3.106"/>
<circle cx="515.65" cy="317.46" r="3.106"/>
<circle cx="538.97" cy="292.65" r="3.106"/>
<circle cx="532.08" cy="306.37" r="3.106"/>
<circle cx="537.32" cy="293.49" r="3.106"/>
<circle cx="536.31" cy="297.11" r="3.106"/>
<circle cx="523.69" cy="314.82" r="3.106"/>
<circle cx="537.02" cy="284.72" r="3.106"/>
<circle cx="527.18" cy="306.37" r="3.106"/>
<circle cx="523.54" cy="311.21" r="3.106"/>
<circle cx="530.51" cy="294.17" r="3.106"/>
<circle cx="534.41" cy="302.20" r="3.106"/>
<circle cx="524.87" cy="303.53" r="3.106"/>
<circle cx="532.01" cy="288.38" r="3.106"/>
<circle cx="513.25" cy="326.98" r="3.106"/>
<circle cx="522.65" cy="315.26" r="3.106"/>
<circle cx="526.70" cy="310.21" r="3.106"/>
<circle cx="541.46" cy="279.77" r="3.106"/>
<circle cx="526.33" cy="301.36" r="3.106"/>
<circle cx="517.37" cy="314.89" r="3.106"/>
<circle cx="540.68" cy="291.89" r="3.106"/>
<circle cx="517.15" cy="314.56" r="3.106"/>
<circle cx="529.66" cy="307.00" r="3.106"/>
<circle cx="542.40" cy="296.03" r="3.106"/>
<circle cx="529.68" cy="300.35" r="3.106"/>
<circle cx="516.00" cy="322.35" r="3.106"/>
<circle cx="519.63" cy="316.03" r="3.106"/>
<circle cx="538.90" cy="296.73" r="3.106"/>
<circle cx="530.28" cy="297.37" r="3.106"/>
<circle cx="534.95" cy="292.34" r="3.106"/>
<circle cx="516.25" cy="318.61" r="3.106"/>
<circle cx="520.09" cy="314.14" r="3.106"/>
<circle cx="538.83" cy="291.17" r="3.106"/>
<circle cx="536.54" cy="282.45" r="3.106"/>
<circle cx="541.52" cy="296.28" r="3.106"/>
<circle cx="530.21" cy="294.87" r="3.106"/>
<circle cx="531.35" cy="289.65" r="3.106"/>
<circle cx="543.42" cy="295.73" r="3.106"/>
<circle cx="536.33" cy="279.51" r="3.106"/>
<circle cx="521.50" cy="316.35" r="3.106"/>
<circle cx="512.00" cy="324.00" r="3.106"/>
<circle cx="515.00" cy="317.00" r="3.106"/>
<circle cx="518.20" cy="313.00" r="3.106"/>
<circle cx="520.30" cy="307.40" r="3.106"/>
<circle cx="525.50" cy="300.10" r="3.106"/>
<circle cx="528.60" cy="292.80" r="3.106"/>
<circle cx="529.70" cy="285.50" r="3.106"/>
<circle cx="530.70" cy="279.20" r="3.106"/>
<circle cx="535.00" cy="278.80" r="3.106"/>
<circle cx="539.00" cy="279.60" r="3.106"/>
<circle cx="543.20" cy="279.20" r="3.106"/>
<circle cx="546.40" cy="283.40" r="3.106"/>
<circle cx="548.50" cy="289.00" r="3.106"/>
<circle cx="516.70" cy="322.90" r="3.106"/>
<circle cx="523.80" cy="315.80" r="3.106"/>
<circle cx="530.10" cy="309.50" r="3.106"/>
<circle cx="537.60" cy="302.00" r="3.106"/>
<circle cx="548.00" cy="291.50" r="3.106"/>
<circle cx="513.80" cy="315.20" r="3.106"/>
<circle cx="516.60" cy="308.20" r="3.106"/>
<circle cx="519.40" cy="303.50" r="3.106"/>
</g>
<path class="gr" d="M490.5 377.72V25.45"/>
<path class="gr" d="M561.5 377.72V25.45"/>
<path class="gr" d="M632.5 377.72V25.45"/>
<path class="gr" d="M703.5 377.72V25.45"/>
<path class="gr" d="M774.5 377.72V25.45"/>
<path class="gr" d="M462.93 351.5H815.19"/>
<path class="gr" d="M462.93 280.5H815.19"/>
<path class="gr" d="M462.93 209.5H815.19"/>
<path class="gr" d="M462.93 138.5H815.19"/>
<path class="gr" d="M462.93 67.5H815.19"/>
<path class="dl" d="M462.925 377.722L815.195 25.452"/>
<path class="dl" d="M462.925 43.063H815.195"/>
</g>
<path class="tk" d="M490.5 378.5v4.86"/>
<path class="tk" d="M561.5 378.5v4.86"/>
<path class="tk" d="M632.5 378.5v4.86"/>
<path class="tk" d="M703.5 378.5v4.86"/>
<path class="tk" d="M774.5 378.5v4.86"/>
<path class="tk" d="M463.5 351.5h-4.86"/>
<path class="tk" d="M463.5 280.5h-4.86"/>
<path class="tk" d="M463.5 209.5h-4.86"/>
<path class="tk" d="M463.5 138.5h-4.86"/>
<path class="tk" d="M463.5 67.5h-4.86"/>
<text x="490.02" y="399.00" text-anchor="middle">0.0</text>
<text x="453.50" y="356.90" text-anchor="end">0.0</text>
<text x="561.00" y="399.00" text-anchor="middle">0.5</text>
<text x="453.50" y="285.93" text-anchor="end">0.5</text>
<text x="631.97" y="399.00" text-anchor="middle">1.0</text>
<text x="453.50" y="214.95" text-anchor="end">1.0</text>
<text x="702.94" y="399.00" text-anchor="middle">1.5</text>
<text x="453.50" y="144.98" text-anchor="end">1.5</text>
<text x="773.92" y="399.00" text-anchor="middle">2.0</text>
<text x="453.50" y="74.01" text-anchor="end">2.0</text>
<text x="639.46" y="419.00" text-anchor="middle">Birth</text>
<text x="422.67" y="205.39" text-anchor="middle" transform="rotate(-90 422.67 205.39)">Death</text>
<rect class="sp" x="463.5" y="25.5" width="352.0" height="353.0"/>
<rect x="740.90" y="299.90" width="67.50" height="71.10" rx="2.78" fill="#fff" fill-opacity=".8" stroke="#ccc" stroke-opacity=".8" stroke-width="1.389"/>
<path class="dl" d="M746.50 311.00H774.30"/>
<text x="786.00" y="317.10">∞</text>
<circle cx="760.30" cy="334.00" r="3.106" fill="#1f77b4"/>
<circle cx="760.30" cy="357.00" r="3.106" fill="#ff7f0e"/>
<text x="786.00" y="338.30"><tspan style="font-style:oblique">H</tspan><tspan x="796.44" y="340.05" style="font-size:9.722px">0</tspan></text>
<text x="786.00" y="361.30"><tspan style="font-style:oblique">H</tspan><tspan x="796.44" y="363.05" style="font-size:9.722px">1</tspan></text>
</svg></body></html>
